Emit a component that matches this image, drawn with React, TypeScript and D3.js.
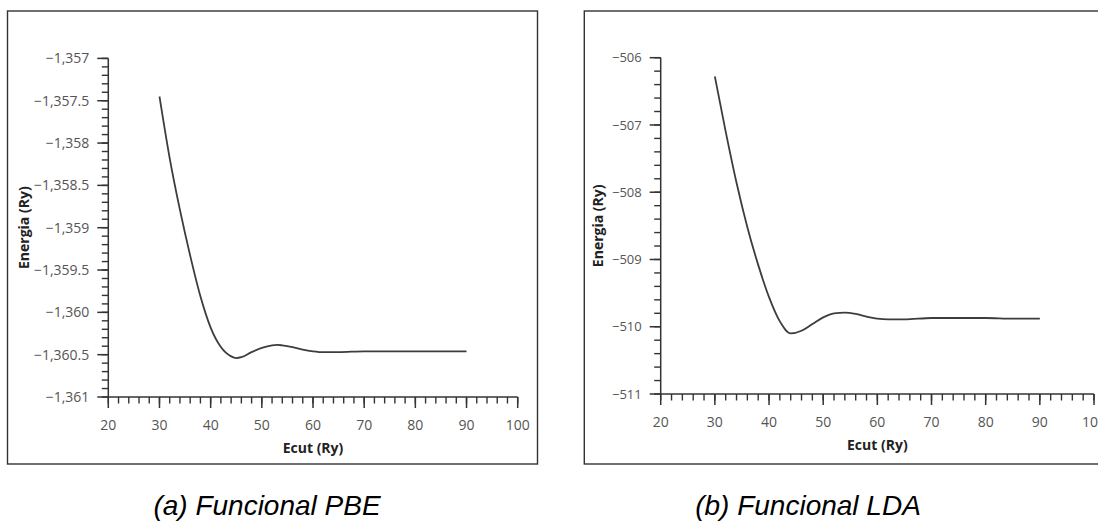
import * as React from 'react'
import * as d3 from 'd3'

// PBE curve
const pbeEcut = [30, 32, 34, 36, 38, 40, 42, 44, 45, 46, 48, 50, 52, 53, 54, 56, 58, 60, 62, 65, 70, 75, 80, 85, 90]
const pbeEnergy = [
  -1357.45, -1358.18, -1358.79, -1359.33, -1359.81, -1360.18, -1360.41, -1360.52, -1360.54, -1360.53,
  -1360.47, -1360.42, -1360.39, -1360.385, -1360.39, -1360.41, -1360.44, -1360.46, -1360.47, -1360.47,
  -1360.46, -1360.46, -1360.46, -1360.46, -1360.46,
]

// LDA curve
const ldaEcut = [30, 32, 34, 36, 38, 40, 42, 44, 46, 48, 50, 52, 54, 56, 58, 60, 62, 65, 70, 75, 80, 85, 90]
const ldaEnergy = [
  -506.28, -507.1, -507.86, -508.52, -509.08, -509.56, -509.92, -510.1, -510.06, -509.96,
  -509.86, -509.8, -509.79, -509.81, -509.85, -509.88, -509.89, -509.89, -509.87, -509.87,
  -509.87, -509.88, -509.88,
]

const xTicks = [20, 30, 40, 50, 60, 70, 80, 90, 100]
const pbeTicks = [-1361, -1360.5, -1360, -1359.5, -1359, -1358.5, -1358, -1357.5, -1357]
const ldaTicks = [-511, -510, -509, -508, -507, -506]

const W = 1098
const H = 522
const ink = '#333'
const grey = '#555'
const font = "'Open Sans', 'DejaVu Sans', sans-serif"

const Panel = props => {
  const { frame, plot, xs, ys, yDomain, yTicks, yMinorStep, yFmt, yFont, caption, capX } = props

  const x = d3.scaleLinear().domain([20, 100]).range([plot.left, plot.right])
  const y = d3.scaleLinear().domain(yDomain).range([plot.bottom, plot.top])

  const line = d3.line<number>()
    .x((d, i) => x(xs[i]))
    .y(d => y(d))
    .curve(d3.curveMonotoneX)

  const xMinor = d3.range(20, 100.001, 2)
  const n = Math.round((yDomain[1] - yDomain[0]) / yMinorStep)
  const yMinor = d3.range(0, n + 1).map(i => yDomain[0] + i * yMinorStep)

  const x0 = plot.left
  const yb = plot.bottom

  return (
    <g>
      <rect x={frame[0]} y={frame[1]} width={frame[2] - frame[0]} height={frame[3] - frame[1]}
        fill="none" stroke={ink} strokeWidth={1.4} />

      {/* y axis */}
      <line x1={x0} x2={x0} y1={y(yDomain[1])} y2={yb} stroke={ink} strokeWidth={1.5} />
      {yMinor.map((t, i) => (
        <line key={'ym' + i} x1={x0 - 6.5} x2={x0} y1={y(t)} y2={y(t)} stroke={ink} strokeWidth={1.4} />
      ))}
      {yTicks.map(t => (
        <g key={'y' + t}>
          <line x1={x0 - 11} x2={x0} y1={y(t)} y2={y(t)} stroke={ink} strokeWidth={1.5} />
          <text x={x0 - 19} y={y(t)} dy="0.36em" textAnchor="end" fontSize={yFont} fill={grey}
            fontFamily={font}>{yFmt(t)}</text>
        </g>
      ))}

      {/* x axis */}
      <line x1={x0} x2={plot.right} y1={yb} y2={yb} stroke={ink} strokeWidth={1.5} />
      {xMinor.map(t => (
        <line key={'xm' + t} x1={x(t)} x2={x(t)} y1={yb} y2={yb + 6.5} stroke={ink} strokeWidth={1.4} />
      ))}
      {xTicks.map(t => (
        <g key={'x' + t}>
          <line x1={x(t)} x2={x(t)} y1={yb} y2={yb + 11} stroke={ink} strokeWidth={1.5} />
          <text x={x(t)} y={yb + 28} dy="0.36em" textAnchor="middle" fontSize={14} fill={grey}
            fontFamily={font}>{t}</text>
        </g>
      ))}

      <text x={(plot.left + plot.right) / 2} y={yb + 51} dy="0.36em" textAnchor="middle" fontSize={14}
        fontWeight="bold" fill="#222" fontFamily={font}>Ecut (Ry)</text>
      <text transform={`translate(${plot.titleX},${(plot.top + plot.bottom) / 2}) rotate(-90)`}
        dy="0.36em" textAnchor="middle" fontSize={14} fontWeight="bold" fill="#222"
        fontFamily={font}>Energia (Ry)</text>

      <path d={line(ys) || ''} fill="none" stroke="#3d3d3d" strokeWidth={1.8} />

      <text x={capX} y={515} textAnchor="middle" fontSize={28} fontStyle="italic" fill="#000"
        fontFamily="'Liberation Sans', Arial, sans-serif">{caption}</text>
    </g>
  )
}

const App = () => {
  const fmtPbe = d3.format(',')
  const fmtLda = d3.format('d')

  return (
    <svg width={W} height={H} style={{ position: 'absolute', left: 0, top: 0, background: '#fff' }}>
      <rect width={W} height={H} fill="#fff" />
      <Panel
        frame={[7.5, 11, 537.5, 464]}
        plot={{ left: 108.3, right: 517.7, top: 58.4, bottom: 397, titleX: 24 }}
        xs={pbeEcut} ys={pbeEnergy}
        yDomain={[-1361, -1357]} yTicks={pbeTicks} yMinorStep={0.1}
        yFmt={fmtPbe} yFont={14}
        caption="(a) Funcional PBE" capX={267}
      />
      <Panel
        frame={[584.3, 11, 1120, 464]}
        plot={{ left: 660.7, right: 1094, top: 57.7, bottom: 394, titleX: 598 }}
        xs={ldaEcut} ys={ldaEnergy}
        yDomain={[-511, -506]} yTicks={ldaTicks} yMinorStep={0.2}
        yFmt={fmtLda} yFont={13}
        caption="(b) Funcional LDA" capX={808}
      />
    </svg>
  )
}

export default App
